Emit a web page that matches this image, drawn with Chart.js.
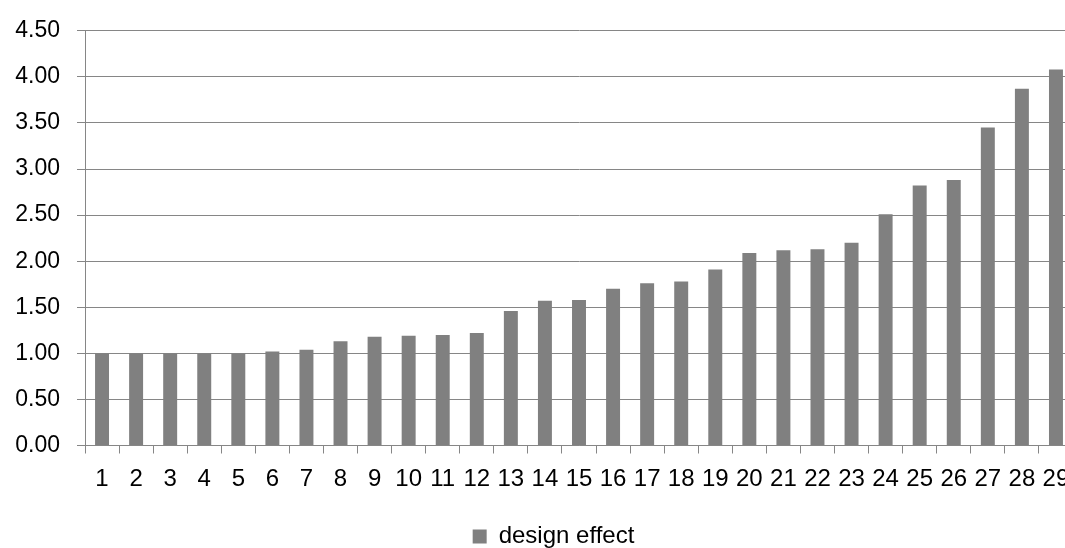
<!DOCTYPE html>
<html>
<head>
<meta charset="utf-8">
<script src="https://cdn.jsdelivr.net/npm/chart.js@4"></script>
<style>
html,body{margin:0;padding:0;background:#fff;overflow:hidden;width:1065px;height:548px;}
#wrap{position:absolute;left:0;top:0;width:1110px;height:560px;}
</style>
</head>
<body>
<div id="wrap"><canvas id="c" width="1110" height="560"></canvas></div>
<script>
const categories = ["1","2","3","4","5","6","7","8","9","10","11","12","13","14","15","16","17","18","19","20","21","22","23","24","25","26","27","28","29"];
const designEffect = [1.00,1.00,1.00,1.00,1.00,1.02,1.04,1.13,1.18,1.19,1.20,1.22,1.46,1.57,1.58,1.70,1.76,1.78,1.91,2.09,2.12,2.13,2.20,2.51,2.82,2.88,3.45,3.87,4.08];
const seriesName = "design effect";

const gridCol = "#868686";
const fontFam = "'Liberation Sans', Arial, sans-serif";

new Chart(document.getElementById('c'), {
  type: 'bar',
  data: {
    labels: categories,
    datasets: [{
      label: seriesName,
      data: designEffect,
      backgroundColor: '#808080',
      borderWidth: 0,
      barPercentage: 0.41,
      categoryPercentage: 1.0
    }]
  },
  options: {
    responsive: false,
    animation: false,
    devicePixelRatio: 1,
    layout: { padding: { left: 0, right: 3, top: 28, bottom: 1.5 } },
    plugins: {
      legend: {
        position: 'bottom',
        labels: {
          boxWidth: 14, boxHeight: 14, padding: 10,
          color: '#000',
          font: { family: fontFam, size: 24 }
        }
      },
      tooltip: { enabled: false }
    },
    scales: {
      x: {
        offset: true,
        grid: { offset: true, drawOnChartArea: false, drawTicks: true, tickLength: 8, color: gridCol, lineWidth: 1 },
        border: { color: gridCol, width: 1 },
        ticks: { color: '#000', font: { family: fontFam, size: 24 }, padding: 11, maxRotation: 0, autoSkip: false },
        afterFit: s => { s.height = 69; }
      },
      y: {
        min: 0, max: 4.5,
        grid: { color: gridCol, lineWidth: 1, tickLength: 8, drawTicks: true },
        border: { color: gridCol, width: 1 },
        ticks: { stepSize: 0.5, color: '#000', font: { family: fontFam, size: 23 }, padding: 17, callback: v => Number(v).toFixed(2) },
        afterFit: s => { s.width = 85; }
      },
      yr: {
        type: 'linear',
        position: 'right',
        display: true,
        grid: { display: false, drawTicks: false },
        border: { display: false },
        ticks: { display: false },
        afterFit: s => { s.width = 34; }
      }
    }
  }
});
</script>
</body>
</html>
